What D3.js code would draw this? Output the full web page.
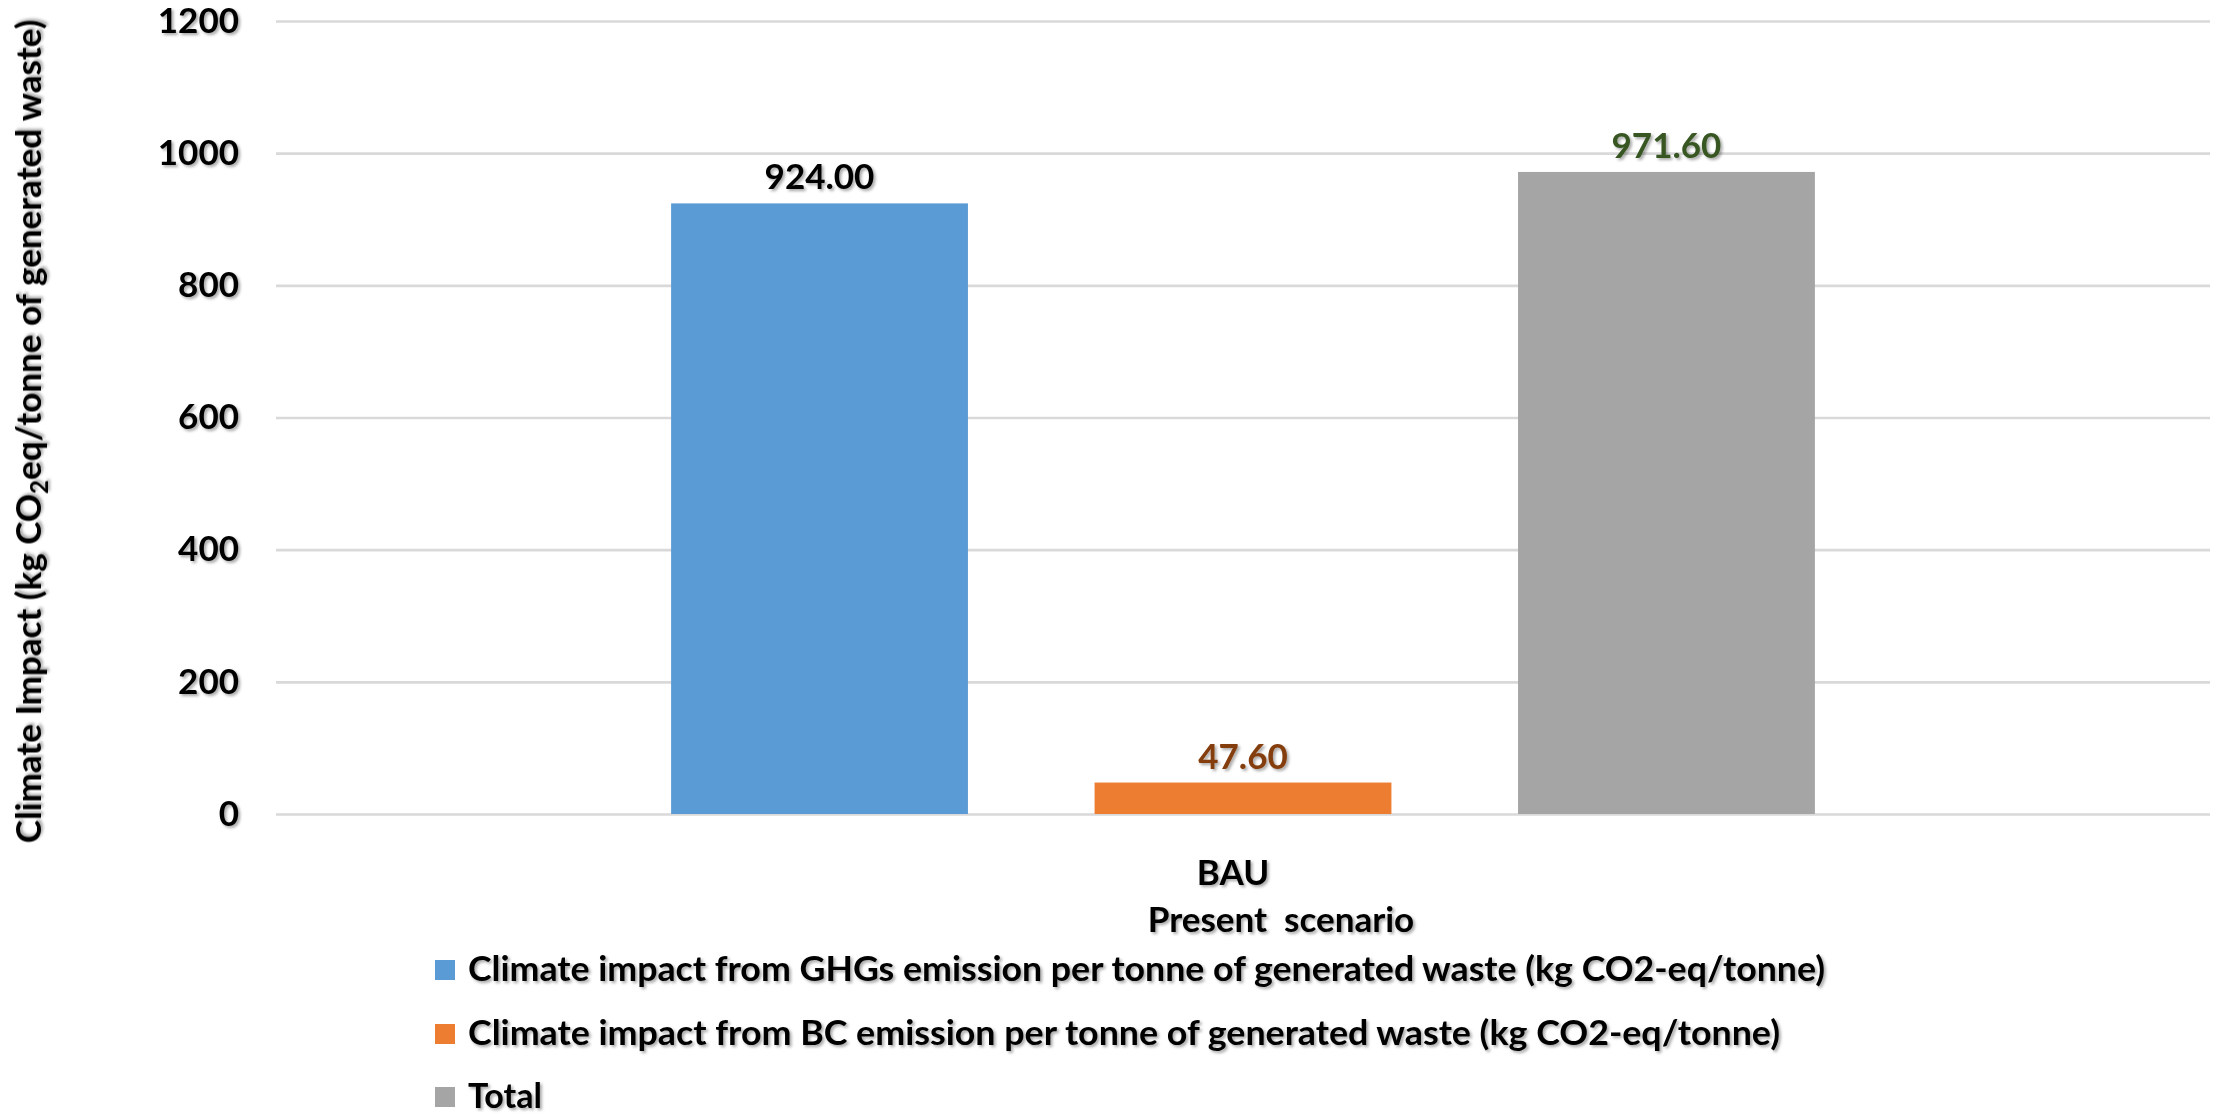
<!DOCTYPE html>
<html>
<head>
<meta charset="utf-8">
<script src="https://cdn.jsdelivr.net/npm/d3@7/dist/d3.min.js"></script>
<style>
  html, body { margin: 0; padding: 0; background: #fff; }
  svg text { font-family: Lato, "Open Sans", "DejaVu Sans", sans-serif; font-weight: 700; }
</style>
</head>
<body>
<svg id="chart" width="2224" height="1114"></svg>
<script>
// Chart data
const categories = ["BAU"];
const seriesKeys = ["ghg", "bc", "total"];
const seriesNames = [
  "Climate impact from GHGs emission per tonne of generated waste (kg CO2-eq/tonne)",
  "Climate impact from BC emission per tonne of generated waste (kg CO2-eq/tonne)",
  "Total"
];
const seriesValues = [924.00, 47.60, 971.60];
const seriesColors = ["#5B9BD5", "#ED7D31", "#A5A5A5"];
const labelColors = ["#000000", "#843C0C", "#375623"];
const yTicks = [0, 200, 400, 600, 800, 1000, 1200];
const xAxisTitle = "Present\u00A0\u00A0scenario";

const svg = d3.select("#chart");

// Soft drop shadow used on all chart text
const defs = svg.append("defs");
defs.append("filter")
  .attr("id", "txtShadow")
  .attr("x", "-10%").attr("y", "-30%").attr("width", "130%").attr("height", "170%")
  .append("feDropShadow")
  .attr("dx", 2).attr("dy", 2).attr("stdDeviation", 1.4)
  .attr("flood-color", "#000").attr("flood-opacity", 0.35);

const plot = { left: 276, right: 2210, top: 21, bottom: 814 };

const y = d3.scaleLinear().domain([0, 1200]).range([plot.bottom, plot.top]);
const x0 = d3.scaleBand().domain(categories).range([plot.left, plot.right]).padding(0);
const x1 = d3.scaleBand().domain(seriesKeys).range([0, x0.bandwidth()])
  .paddingInner(0.299).paddingOuter(0.933);

// Horizontal gridlines and value tick labels
const yAxis = svg.append("g")
  .attr("transform", `translate(${plot.left},0)`)
  .call(d3.axisLeft(y).tickValues(yTicks).tickFormat(d3.format("d"))
    .tickSize(-(plot.right - plot.left)).tickPadding(37));
yAxis.select(".domain").remove();
yAxis.selectAll(".tick line").attr("stroke", "#D9D9D9").attr("stroke-width", 2.6);
yAxis.selectAll(".tick text")
  .attr("fill", "#000").attr("font-size", 35)
  .attr("filter", "url(#txtShadow)")
  .style("font-family", "Lato, 'Open Sans', sans-serif").style("font-weight", 700);

// Bars
const rows = seriesKeys.map((k, i) => ({ key: k, value: seriesValues[i], color: seriesColors[i], labelColor: labelColors[i] }));
const group = svg.append("g").attr("transform", `translate(${x0(categories[0])},0)`);

group.selectAll("rect.bar").data(rows).join("rect")
  .attr("class", "bar")
  .attr("x", d => x1(d.key))
  .attr("width", x1.bandwidth())
  .attr("y", d => y(d.value))
  .attr("height", d => y(0) - y(d.value))
  .attr("fill", d => d.color);

// Value labels above bars
group.selectAll("text.val").data(rows).join("text")
  .attr("class", "val")
  .attr("x", d => x1(d.key) + x1.bandwidth() / 2)
  .attr("y", d => y(d.value) - 14)
  .attr("text-anchor", "middle")
  .attr("font-size", 35)
  .attr("fill", d => d.labelColor)
  .attr("filter", "url(#txtShadow)")
  .text(d => d3.format(".2f")(d.value));

// Category label and axis title
const xAxis = svg.append("g")
  .attr("transform", `translate(0,${plot.bottom})`)
  .call(d3.axisBottom(x0).tickSize(0).tickPadding(46));
xAxis.select(".domain").remove();
xAxis.selectAll(".tick text")
  .attr("fill", "#000").attr("font-size", 35)
  .attr("filter", "url(#txtShadow)")
  .attr("transform", "translate(-10,0)")
  .style("font-family", "Lato, 'Open Sans', sans-serif").style("font-weight", 700);

svg.append("text")
  .attr("x", 1281).attr("y", 932)
  .attr("text-anchor", "middle")
  .attr("font-size", 35)
  .attr("filter", "url(#txtShadow)")
  .text(xAxisTitle);

// Y axis title with subscript
const yTitle = svg.append("text")
  .attr("transform", `translate(41,${(plot.top + plot.bottom) / 2 + 14}) rotate(-90)`)
  .attr("text-anchor", "middle")
  .attr("font-size", 35)
  .attr("filter", "url(#txtShadow)");
yTitle.append("tspan").text("Climate Impact (kg CO");
yTitle.append("tspan").attr("font-size", 24).attr("dy", 7).text("2");
yTitle.append("tspan").attr("dy", -7).text("eq/tonne of generated waste)");

// Legend
const legendRowY = [970, 1034, 1097];
const legendTextWidths = [1357, 1312, null];
const legend = svg.append("g");
const li = legend.selectAll("g").data(rows).join("g")
  .attr("transform", (d, i) => `translate(435,${legendRowY[i]})`);
li.append("rect")
  .attr("x", 0).attr("y", -10).attr("width", 20).attr("height", 20)
  .attr("fill", d => d.color);
li.append("text")
  .attr("x", 33).attr("y", 11)
  .attr("font-size", 34)
  .attr("fill", "#000")
  .attr("filter", "url(#txtShadow)")
  .each(function (d, i) {
    const t = d3.select(this).text(seriesNames[i]);
    if (legendTextWidths[i]) t.attr("textLength", legendTextWidths[i]).attr("lengthAdjust", "spacingAndGlyphs");
  });
</script>
</body>
</html>
